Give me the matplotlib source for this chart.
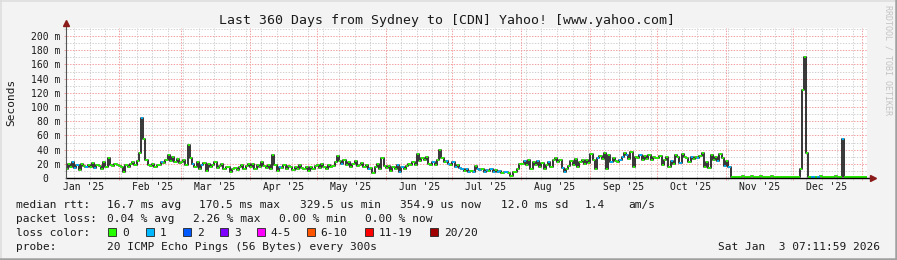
import matplotlib
matplotlib.use("Agg")
import matplotlib.pyplot as plt
import matplotlib.dates as mdates
from matplotlib.patches import Rectangle
from matplotlib.lines import Line2D
from matplotlib.collections import LineCollection
import numpy as np
import pandas as pd

# daily median rtt in ms, Jan 8 2025 .. Jan 2 2026
jan25 = [12, 20, 16, 22, 14, 18, 11, 20, 17, 15, 19, 16, 21, 14, 18, 17, 12, 22, 16, 28, 19, 17, 20, 18]
feb25 = [17, 15, 8, 18, 16, 20, 22, 19, 24, 35, 85, 55, 25, 18, 17, 20, 16, 19, 18, 22, 21, 26, 32, 24, 30, 22, 27, 21]
mar25 = [22, 25, 19, 47, 28, 20, 15, 22, 12, 18, 21, 10, 20, 15, 18, 22, 14, 17, 20, 13, 16, 15, 9, 12, 14, 11, 15, 18, 13, 17, 20]
apr25 = [16, 20, 13, 18, 15, 22, 17, 14, 19, 12, 32, 18, 10, 16, 14, 19, 12, 17, 15, 11, 16, 13, 18, 14, 12, 16, 10, 15, 13, 17]
may25 = [18, 14, 20, 16, 13, 19, 15, 17, 22, 31, 24, 20, 26, 18, 22, 16, 20, 24, 17, 19, 21, 15, 18, 12, 14, 7, 16, 20, 13, 28, 17]
jun25 = [14, 17, 10, 16, 13, 18, 8, 15, 12, 17, 20, 18, 22, 19, 34, 24, 28, 26, 30, 20, 18, 22, 19, 25, 40, 28, 22, 24, 20, 18]
jul25 = [22, 16, 18, 14, 13, 10, 12, 9, 10, 8, 17, 13, 11, 12, 9, 11, 10, 12, 8, 11, 9, 10, 7, 8, 9, 7, 3, 9, 8, 12, 20]
aug25 = [20, 24, 18, 25, 12, 22, 19, 24, 16, 21, 13, 18, 22, 15, 26, 28, 22, 25, 14, 9, 12, 17, 24, 19, 27, 16, 22, 25, 20, 26, 21]
sep25 = [34, 26, 13, 28, 31, 27, 35, 12, 33, 22, 28, 24, 22, 26, 30, 35, 32, 27, 36, 15, 30, 28, 33, 26, 31, 27, 33, 25, 30, 28]
oct25 = [28, 31, 18, 26, 30, 15, 24, 20, 33, 30, 21, 34, 29, 28, 22, 29, 27, 30, 28, 31, 35, 16, 22, 14, 33, 26, 30, 24, 34, 28, 17]
nov25 = [24, 16, 1.2, 1.5, 1.0, 1.8, 1.2, 2.5, 1.4, 1.1, 1.6, 2.8, 1.3, 1.0, 1.5, 2.2, 1.2, 1.8, 1.1, 1.4,
         2.6, 1.3, 1.0, 1.7, 1.2, 1.5, 1.1, 2.0, 1.3, 1.6]
dec25 = [1.3, 1.8, 1.1, 13, 124, 170, 35, 1.5, 1.2, 1.0, 1.6, 1.3, 2.2, 1.1, 1.4, 1.8, 1.2, 1.0, 1.5, 2.4,
         1.3, 1.1, 55, 1.4, 1.2, 1.6, 1.0, 2.0, 1.3, 1.2, 1.5]
jan26 = [1.2, 1.6]

# days (index from Jan 8) where 1 of 20 pings was lost
loss1_days = [3, 4, 5, 9, 13, 34, 43, 57, 61, 96, 124, 136, 149, 150, 151, 165, 171, 172, 174, 175, 177,
              178, 180, 181, 183, 185, 186, 188, 189, 191, 192, 194, 195, 197, 198, 206, 212, 217, 223, 224,
              239, 245, 249, 250, 252, 258, 272, 276, 281, 284, 293, 296, 298, 335, 336, 338, 349]

loss_labels = ["0", "1", "2", "3", "4-5", "6-10", "11-19", "20/20"]
loss_colors = ["#26ff00", "#00b8ff", "#0059ff", "#7e00ff", "#ff00ff", "#ff5500", "#ff0000", "#a10000"]
box_x = [108, 145.5, 182.7, 220, 256.5, 306.7, 365, 430]

title = "Last 360 Days from Sydney to [CDN] Yahoo! [www.yahoo.com]"
row1 = [("median rtt:", 16), ("16.7 ms avg", 107), ("170.5 ms max", 199), ("329.5 us min", 300),
        ("354.9 us now", 400), ("12.0 ms sd", 500.7), ("1.4", 585), ("am/s", 628)]
row2 = [("packet loss:", 16), ("0.04 % avg", 107), ("2.26 % max", 193), ("0.00 % min", 279),
        ("0.00 % now", 365)]

W, H = 897, 260
plt.rcParams["font.family"] = "DejaVu Sans Mono"
TXT = "#1a1a1a"

rtt = np.array(jan25 + feb25 + mar25 + apr25 + may25 + jun25 + jul25 + aug25 + sep25 + oct25 + nov25 + dec25 + jan26, dtype=float)
days = pd.date_range("2025-01-08", periods=len(rtt), freq="D")
t0 = pd.Timestamp("2025-01-08 07:12")
t1 = pd.Timestamp("2026-01-03 07:12")


def fx(x):
    return x / W


def fy(y):
    return 1 - y / H


fig = plt.figure(figsize=(W / 100, H / 100), dpi=100)
fig.patch.set_facecolor("#f3f3f3")
ax = fig.add_axes([fx(66), fy(178), 801 / W, 150 / H])
ax.set_facecolor("white")
x0, x1 = mdates.date2num(t0), mdates.date2num(t1)
ytop = 150 / 0.71
ax.set_xlim(x0, x1)
ax.set_ylim(0, ytop)
for s in ax.spines.values():
    s.set_visible(False)

px_day = 801 / (x1 - x0)
px_ms = 0.71

# grid: weekly minor, monthly major, 10 ms minor, 20 ms major
weeks = mdates.date2num(pd.date_range(t0.normalize(), t1, freq="W-SUN"))
months = pd.date_range("2025-02-01", t1, freq="MS")
ax.vlines(weeks, -2 / px_ms, ytop, colors="#d2d2d2", lw=0.72, linestyles=(0, (1.4, 1.4)), zorder=0.5, clip_on=False)
for v in range(10, 211, 20):
    ax.hlines(v, x0 - 2 / px_day, x1, colors="#d2d2d2", lw=0.72, linestyles=(0, (1.4, 1.4)), zorder=0.5, clip_on=False)
ax.vlines(mdates.date2num(months), -2 / px_ms, ytop, colors="#f4a0a0", lw=0.72, linestyles=(0, (1.4, 1.4)), zorder=0.6, clip_on=False)
for v in range(20, 201, 20):
    ax.hlines(v, x0 - 2 / px_day, x1, colors="#f4a0a0", lw=0.72, linestyles=(0, (1.4, 1.4)), zorder=0.6, clip_on=False)

# median line: dark steps, loss coloured levels
xs = mdates.date2num(days)
x_ext = np.append(xs, x1)
ax.step(x_ext, np.append(rtt, rtt[-1]), where="post", color="#1e1e1e", lw=1.25, zorder=2)
segs = [[(x_ext[i], rtt[i]), (x_ext[i + 1], rtt[i])] for i in range(len(rtt))]
cols = [loss_colors[1] if i in loss1_days else loss_colors[0] for i in range(len(rtt))]
ax.add_collection(LineCollection(segs, colors=cols, linewidths=1.3, capstyle="butt", zorder=3))

# axes with arrows
ax.plot([x0, x1 + 5 / px_day], [0, 0], color="black", lw=1.0, clip_on=False, zorder=4)
ax.plot([x0, x0], [0, ytop + 4 / px_ms], color="#555555", lw=0.8, clip_on=False, zorder=4)
ax.plot([x1 + 6 / px_day], [0], marker=">", ms=4.2, color="#8b1a1a", clip_on=False, zorder=5)
ax.plot([x0], [ytop + 5 / px_ms], marker="^", ms=4.2, color="#8b1a1a", clip_on=False, zorder=5)

# ticks
yt = list(range(0, 201, 20))
ax.set_yticks(yt, ["0"] + [f"{v} m" for v in yt[1:]])
ax.tick_params(axis="y", length=0, pad=4.3, labelsize=7, labelcolor=TXT)
ax.yaxis.get_major_ticks()[0].label1.set_x(-12 / 801)
lab_months = pd.date_range("2025-01-01", t1, freq="MS") + pd.Timedelta(days=15)
lab_months = lab_months[(lab_months > t0) & (lab_months < t1)]
ax.set_xticks(mdates.date2num(lab_months), [d.strftime("%b '%y") for d in lab_months])
ax.tick_params(axis="x", length=0, pad=2.6, labelsize=7, labelcolor=TXT)

# texts
fig.text(fx(446.5), fy(24), title, ha="center", va="baseline", fontsize=9.5, color=TXT)
fig.text(fx(10.8), fy(102.5), "Seconds", rotation=90, ha="center", va="center", fontsize=8, color=TXT)
fig.text(fx(887.5), fy(5), "RRDTOOL / TOBI OETIKER", rotation=270, ha="center", va="top", fontsize=6, color="#c4c4c4")

for s, x in row1:
    fig.text(fx(x), fy(208.3), s, fontsize=8, color=TXT, va="baseline")
for s, x in row2:
    fig.text(fx(x), fy(222.3), s, fontsize=8, color=TXT, va="baseline")
fig.text(fx(16), fy(236.3), "loss color:", fontsize=8, color=TXT, va="baseline")
for lab, c, bx in zip(loss_labels, loss_colors, box_x):
    fig.add_artist(Rectangle((fx(bx), fy(236)), 8 / W, 8 / H, transform=fig.transFigure,
                             facecolor=c, edgecolor="#222222", lw=0.6))
    fig.text(fx(bx + 14), fy(236.3), lab, fontsize=8, color=TXT, va="baseline")
fig.text(fx(16), fy(250.3), "probe:", fontsize=8, color=TXT, va="baseline")
fig.text(fx(107), fy(250.3), "20 ICMP Echo Pings (56 Bytes) every 300s", fontsize=8, color=TXT, va="baseline")
fig.text(fx(880), fy(250.3), "Sat Jan  3 07:11:59 2026", fontsize=8, color=TXT, va="baseline", ha="right")

# 3d-ish frame
fig.add_artist(Line2D([0, 1], [fy(0.75), fy(0.75)], color="#dcdcdc", lw=1.1))
fig.add_artist(Line2D([fx(0.75), fx(0.75)], [0, 1], color="#dcdcdc", lw=1.1))
fig.add_artist(Line2D([0, 1], [fy(258.8), fy(258.8)], color="#a0a0a0", lw=1.8))
fig.add_artist(Line2D([fx(895.8), fx(895.8)], [0, 1], color="#a0a0a0", lw=1.8))

fig.savefig("out.png", dpi=100, facecolor=fig.get_facecolor())
